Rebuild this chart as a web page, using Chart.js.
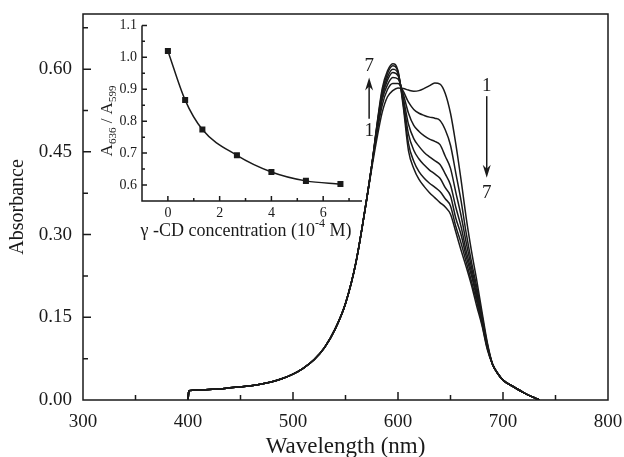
<!DOCTYPE html>
<html>
<head>
<meta charset="utf-8">
<script src="https://cdn.jsdelivr.net/npm/chart.js@4/dist/chart.umd.min.js"></script>
<style>
body { margin: 0; background: #fff; }
#wrap { position: relative; width: 624px; height: 457px; }
#main { position: absolute; left: 0; top: 0; }
#inset { position: absolute; left: 95px; top: 12px; }
</style>
</head>
<body>
<div id="wrap">
  <canvas id="main" width="624" height="457"></canvas>
  <canvas id="inset" width="275" height="235"></canvas>
</div>
<script>
// main spectra (absorbance vs wavelength)
var wavelength = [400,401,410,420,430,440,450,460,470,480,490,500,510,520,530,540,550,560,570,
                  575,580,585,590,595,600,605,610,615,620,625,630,635,640,645,650,655,660,665,670,675,680,685,
                  690,695,700,710,720,730,735];
// 400..570, same for all seven curves
var riseAll = [0.0,0.017,0.018,0.019,0.020,0.022,0.024,0.026,0.029,0.033,0.039,0.047,0.058,0.073,0.095,0.128,0.175,0.250,0.362];
// 575..685
var curve1 = [0.420,0.475,0.522,0.550,0.561,0.566,0.565,0.562,0.560,0.561,0.565,0.570,0.575,0.573,0.556,0.520,0.465,0.400,0.330,0.270,0.217,0.160,0.105];
var curve2 = [0.425,0.485,0.535,0.563,0.574,0.574,0.560,0.540,0.527,0.520,0.516,0.513,0.511,0.507,0.490,0.462,0.412,0.362,0.302,0.250,0.205,0.153,0.102];
var curve3 = [0.425,0.490,0.545,0.572,0.585,0.582,0.555,0.520,0.498,0.487,0.479,0.473,0.469,0.463,0.442,0.420,0.377,0.335,0.285,0.240,0.197,0.148,0.100];
var curve4 = [0.425,0.493,0.550,0.580,0.594,0.588,0.548,0.500,0.474,0.460,0.449,0.441,0.434,0.427,0.410,0.390,0.350,0.315,0.270,0.232,0.190,0.145,0.098];
var curve5 = [0.425,0.496,0.555,0.586,0.600,0.592,0.542,0.482,0.453,0.437,0.426,0.417,0.410,0.402,0.385,0.370,0.330,0.300,0.260,0.225,0.185,0.142,0.096];
var curve6 = [0.425,0.498,0.560,0.592,0.606,0.595,0.537,0.465,0.433,0.414,0.402,0.393,0.386,0.378,0.365,0.352,0.315,0.285,0.250,0.215,0.178,0.138,0.094];
var curve7 = [0.425,0.500,0.565,0.597,0.610,0.597,0.532,0.452,0.420,0.400,0.387,0.376,0.367,0.358,0.350,0.337,0.305,0.272,0.241,0.208,0.170,0.135,0.092];
// 690..735
var tailAll = [0.065,0.048,0.036,0.024,0.013,0.004,0.0];

var xTicks = [300,400,500,600,700,800];
var xMinor = [350,450,550,650,750];
var yTicks = [0,0.15,0.30,0.45,0.60];
var yMinor = [0.075,0.225,0.375,0.525,0.675];

// inset: ratio vs gamma-CD concentration
var conc = [0,0.667,1.333,2.667,4.0,5.333,6.667];
var ratio = [1.02,0.866,0.774,0.693,0.641,0.613,0.603];
var insetXTicks = [0,2,4,6];
var insetXMinor = [1,3,5,7];
var insetYTicks = [0.6,0.7,0.8,0.9,1.0,1.1];
var insetYMinor = [0.65,0.75,0.85,0.95,1.05];

var serif = 'Liberation Serif';
var ink = '#1a1a1a';

// axis lines + inward ticks
var frame = {
    id: 'frame',
    afterDraw: function(chart, args, o) {
        var ctx = chart.ctx, a = chart.chartArea;
        var xs = chart.scales.x, ys = chart.scales.y;
        ctx.save();
        ctx.strokeStyle = ink;
        ctx.lineWidth = o.width;
        ctx.beginPath();
        if (o.box) {
            ctx.rect(a.left, a.top, a.right - a.left, a.bottom - a.top);
        } else {
            ctx.moveTo(a.left, a.top);
            ctx.lineTo(a.left, a.bottom);
            ctx.lineTo(a.right, a.bottom);
        }
        o.xMajor.forEach(function(v) { var p = xs.getPixelForValue(v); ctx.moveTo(p, a.bottom); ctx.lineTo(p, a.bottom - o.major); });
        o.xMinor.forEach(function(v) { var p = xs.getPixelForValue(v); ctx.moveTo(p, a.bottom); ctx.lineTo(p, a.bottom - o.minor); });
        o.yMajor.forEach(function(v) { var p = ys.getPixelForValue(v); ctx.moveTo(a.left, p); ctx.lineTo(a.left + o.major, p); });
        o.yMinor.forEach(function(v) { var p = ys.getPixelForValue(v); ctx.moveTo(a.left, p); ctx.lineTo(a.left + o.minor, p); });
        ctx.stroke();
        ctx.restore();
    }
};

// the "1 -> 7" arrows
var arrows = {
    id: 'arrows',
    afterDraw: function(chart) {
        var ctx = chart.ctx, xs = chart.scales.x, ys = chart.scales.y;
        function arrow(wl, from, to, top, bottom) {
            var x = xs.getPixelForValue(wl);
            var y1 = ys.getPixelForValue(from), y2 = ys.getPixelForValue(to);
            var dir = y2 < y1 ? 1 : -1;
            ctx.beginPath();
            ctx.moveTo(x, y1);
            ctx.lineTo(x, y2 + dir * 8);
            ctx.stroke();
            ctx.beginPath();
            ctx.moveTo(x, y2);
            ctx.lineTo(x - 4, y2 + dir * 13);
            ctx.lineTo(x, y2 + dir * 9);
            ctx.lineTo(x + 4, y2 + dir * 13);
            ctx.closePath();
            ctx.fill();
            ctx.fillText(top[0], x, ys.getPixelForValue(top[1]));
            ctx.fillText(bottom[0], x, ys.getPixelForValue(bottom[1]));
        }
        ctx.save();
        ctx.strokeStyle = ink;
        ctx.fillStyle = ink;
        ctx.lineWidth = 1.5;
        ctx.font = '19px "' + serif + '"';
        ctx.textAlign = 'center';
        ctx.textBaseline = 'middle';
        arrow(572.5, 0.51, 0.585, ['7', 0.605], ['1', 0.487]);
        arrow(684.5, 0.551, 0.403, ['1', 0.569], ['7', 0.376]);
        ctx.restore();
    }
};

var datasets = [curve1, curve2, curve3, curve4, curve5, curve6, curve7].map(function(c) {
    var ys = riseAll.concat(c, tailAll);
    return {
        data: ys.map(function(y, i) { return { x: wavelength[i], y: y }; }),
        borderColor: ink,
        borderWidth: 1.5,
        pointRadius: 0,
        fill: false,
        cubicInterpolationMode: 'monotone'
    };
});

new Chart(document.getElementById('main'), {
    type: 'line',
    data: { datasets: datasets },
    options: {
        responsive: false,
        animation: false,
        layout: { padding: { top: 14, right: 16, left: 0, bottom: 0 } },
        plugins: {
            legend: { display: false },
            tooltip: { enabled: false },
            frame: { box: true, width: 1.5, major: 8, minor: 5,
                     xMajor: xTicks, xMinor: xMinor, yMajor: yTicks, yMinor: yMinor }
        },
        scales: {
            x: {
                type: 'linear', min: 300, max: 800,
                grid: { display: false, drawTicks: false },
                border: { display: false },
                afterBuildTicks: function(s) { s.ticks = xTicks.map(function(v) { return { value: v }; }); },
                afterFit: function(s) { s.height = 57; s.paddingLeft = 0; s.paddingRight = 0; },
                ticks: { font: { family: serif, size: 19 }, color: ink, padding: 11, maxRotation: 0,
                         callback: function(v) { return v; } },
                title: { display: true, text: 'Wavelength (nm)', font: { family: serif, size: 23 }, color: ink,
                         padding: { top: 0, bottom: -4 } }
            },
            y: {
                type: 'linear', min: 0, max: 0.70,
                grid: { display: false, drawTicks: false },
                border: { display: false },
                afterBuildTicks: function(s) { s.ticks = yTicks.map(function(v) { return { value: v }; }); },
                afterFit: function(s) { s.width = 83; s.paddingTop = 0; s.paddingBottom = 0; },
                ticks: { font: { family: serif, size: 19 }, color: ink, padding: 11,
                         callback: function(v) { return v.toFixed(2); } },
                title: { display: true, text: 'Absorbance', font: { family: serif, size: 20 }, color: ink,
                         padding: { top: 6, bottom: 0 } }
            }
        }
    },
    plugins: [frame, arrows]
});

// inset titles need sub/superscripts, draw them by hand
function richText(ctx, parts, size) {
    var w = 0;
    parts.forEach(function(p) {
        ctx.font = (p.s ? Math.round(size * 0.65) : size) + 'px "' + serif + '"';
        p.w = ctx.measureText(p.t).width;
        w += p.w;
    });
    var x = -w / 2;
    parts.forEach(function(p) {
        ctx.font = (p.s ? Math.round(size * 0.65) : size) + 'px "' + serif + '"';
        var dy = p.s === 'sub' ? size * 0.28 : (p.s === 'sup' ? -size * 0.38 : 0);
        ctx.fillText(p.t, x, dy);
        x += p.w;
    });
}

var insetTitles = {
    id: 'insetTitles',
    afterDraw: function(chart) {
        var ctx = chart.ctx, a = chart.chartArea;
        ctx.save();
        ctx.fillStyle = ink;
        ctx.textAlign = 'left';
        ctx.textBaseline = 'middle';
        ctx.translate((a.left + a.right) / 2 - 6, 219);
        richText(ctx, [{ t: '\u03B3 -CD concentration (10' }, { t: '-4', s: 'sup' }, { t: ' M)' }], 18);
        ctx.restore();
        ctx.save();
        ctx.fillStyle = ink;
        ctx.textAlign = 'left';
        ctx.textBaseline = 'middle';
        ctx.translate(13, 109);
        ctx.rotate(-Math.PI / 2);
        richText(ctx, [{ t: 'A' }, { t: '636', s: 'sub' }, { t: ' / A' }, { t: '599', s: 'sub' }], 17);
        ctx.restore();
    }
};

new Chart(document.getElementById('inset'), {
    type: 'line',
    data: {
        datasets: [{
            data: conc.map(function(c, i) { return { x: c, y: ratio[i] }; }),
            borderColor: ink,
            borderWidth: 1.5,
            pointStyle: 'rect',
            pointRadius: 3.2,
            pointBackgroundColor: ink,
            pointBorderColor: ink,
            fill: false,
            cubicInterpolationMode: 'monotone'
        }]
    },
    options: {
        responsive: false,
        animation: false,
        layout: { padding: { top: 11, right: 8, left: 0, bottom: 0 } },
        plugins: {
            legend: { display: false },
            tooltip: { enabled: false },
            frame: { box: false, width: 1.5, major: 5, minor: 3,
                     xMajor: insetXTicks, xMinor: insetXMinor, yMajor: insetYTicks, yMinor: insetYMinor }
        },
        scales: {
            x: {
                type: 'linear', min: -1, max: 7.5,
                grid: { display: false, drawTicks: false },
                border: { display: false },
                afterBuildTicks: function(s) { s.ticks = insetXTicks.map(function(v) { return { value: v }; }); },
                afterFit: function(s) { s.height = 46; },
                ticks: { font: { family: serif, size: 14 }, color: ink, padding: 4, maxRotation: 0,
                         callback: function(v) { return v; } }
            },
            y: {
                type: 'linear', min: 0.55, max: 1.1,
                grid: { display: false, drawTicks: false },
                border: { display: false },
                afterBuildTicks: function(s) { s.ticks = insetYTicks.map(function(v) { return { value: v }; }); },
                afterFit: function(s) { s.width = 47; },
                ticks: { font: { family: serif, size: 14 }, color: ink, padding: 5,
                         callback: function(v) { return v.toFixed(1); } }
            }
        }
    },
    plugins: [frame, insetTitles]
});
</script>
</body>
</html>
